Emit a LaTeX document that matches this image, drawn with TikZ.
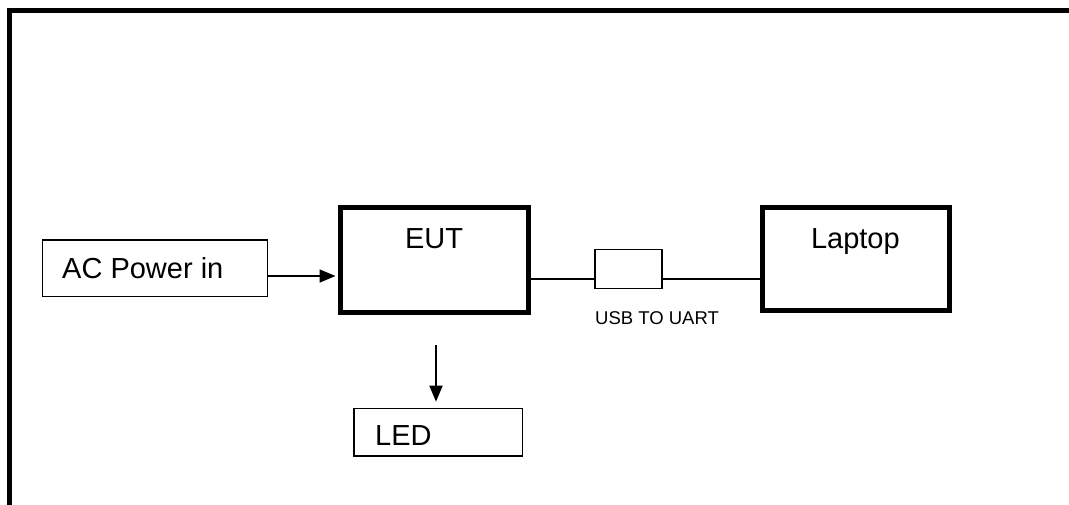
\documentclass[tikz,border=0pt]{standalone}
\usepackage{fontspec}
\setmainfont{Liberation Sans}
\usetikzlibrary{arrows.meta}
\begin{document}
\begin{tikzpicture}[x=1pt,y=-1pt,
  thickbox/.style={draw,line width=5pt,inner sep=0pt,rectangle},
  thinbox/.style={draw,line width=1.5pt,inner sep=0pt,rectangle},
  lbl/.style={inner sep=0pt,font=\fontsize{29}{34}\selectfont},
  smalllbl/.style={inner sep=0pt,font=\fontsize{18.5}{22}\selectfont},
  arr/.style={line width=1.5pt,-{Triangle[length=16pt,width=13pt]}},
  wire/.style={line width=1.5pt}]
\useasboundingbox (0,0) rectangle (1069,504);
\clip (0,0) rectangle (1069,504);
% outer frame (only top and left edges fall inside the picture)
\draw[line width=5pt] (9.5,540) -- (9.5,10.5) -- (1100,10.5);
% boxes
\node[thinbox,minimum width=225pt,minimum height=56.5pt] (ac) at (154.8,268.3) {};
\node[thickbox,minimum width=188pt,minimum height=105pt] (eut) at (434,260) {};
\node[thickbox,minimum width=187pt,minimum height=103pt] (laptop) at (856,259) {};
\node[thinbox,minimum width=67pt,minimum height=39pt] (usb) at (628.5,269) {};
\node[thinbox,minimum width=168.5pt,minimum height=47.5pt] (led) at (438.3,432.2) {};
% texts
\node[lbl,anchor=base west] (actext) at (62,278) {AC Power in};
\node[lbl,anchor=base] (euttext) at (434,248) {EUT};
\node[lbl,anchor=base] (laptoptext) at (855.4,248) {Laptop};
\node[smalllbl,anchor=base west] (usbtext) at (595,324) {USB TO UART};
\node[lbl,anchor=base west] (ledtext) at (375,445) {LED};
% connectors
\coordinate (acout) at (ac.east |- 0,276);
\draw[arr,shorten >=2pt] (acout) -- (eut.west |- acout);
\coordinate (eutout) at (eut.east |- 0,279);
\draw[wire] (eutout) -- (usb.west |- eutout);
\draw[wire] (usb.east |- eutout) -- (laptop.west |- eutout);
\coordinate (ledin) at (436,345);
\draw[arr,shorten >=6pt] (ledin) -- (led.north -| ledin);
\end{tikzpicture}
\end{document}
